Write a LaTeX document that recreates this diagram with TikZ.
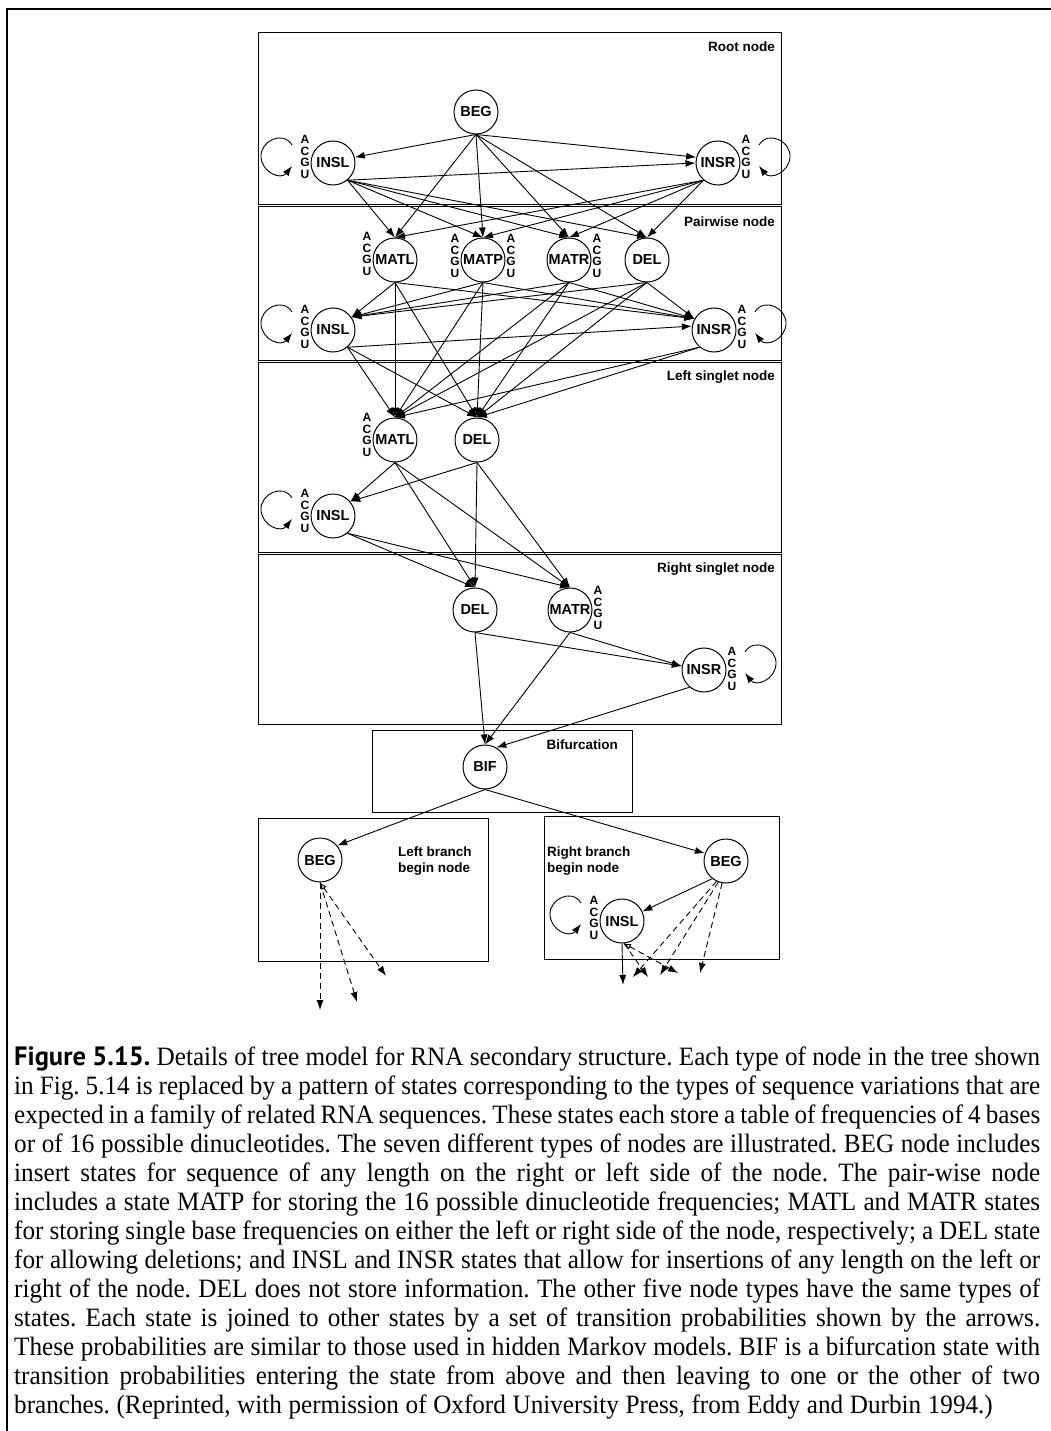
\documentclass[tikz,border=0pt]{standalone}
\usepackage{fontspec}
\setmainfont{Liberation Serif}
\newfontfamily\capfont[FakeStretch=0.95]{Liberation Serif}
\newfontfamily\hvfont{Liberation Sans}
\newfontfamily\fignumfont{PT Sans}
\usetikzlibrary{arrows.meta}
\newcommand\mkloopL[1]{\draw[ar] ([shift={(-41,-18)}]#1.center) .. controls ([shift={(-50,-33)}]#1.center) and ([shift={(-73,-22)}]#1.center) .. ([shift={(-72,-6)}]#1.center) .. controls ([shift={(-71,10)}]#1.center) and ([shift={(-52,17)}]#1.center) .. ([shift={(-41,3)}]#1.center);}
\newcommand\mkloopR[1]{\draw[ar] ([shift={(41,-18)}]#1.center) .. controls ([shift={(50,-33)}]#1.center) and ([shift={(73,-22)}]#1.center) .. ([shift={(72,-6)}]#1.center) .. controls ([shift={(71,10)}]#1.center) and ([shift={(52,17)}]#1.center) .. ([shift={(41,3)}]#1.center);}
\newcommand\acguL[3]{\node[acgu] (#2) at ([shift={(-28,#3)}]#1.center) {A\\C\\G\\U};}
\newcommand\acguR[3]{\node[acgu] (#2) at ([shift={(28,#3)}]#1.center) {A\\C\\G\\U};}
\begin{document}
\begin{tikzpicture}[x=1pt,y=-1pt,
  st/.style={circle,draw,line width=1pt,minimum size=44pt,inner sep=0pt,font=\hvfont\bfseries\fontsize{14.5}{15}\selectfont},
  box/.style={draw,line width=1pt},
  lab/.style={font=\hvfont\bfseries\fontsize{13.5}{16}\selectfont,inner sep=0pt,align=left},
  ar/.style={-{Latex[length=10pt,width=7pt]},line width=0.9pt},
  dar/.style={ar,dash pattern=on 6pt off 4pt},
  acgu/.style={font=\hvfont\bfseries\fontsize{12}{11.5}\selectfont,align=center,inner sep=0pt}
]
\useasboundingbox (0,0) rectangle (1051,1431);
\draw[line width=2pt] (6.5,1431) -- (6.5,9.5) -- (1051,9.5);
% boxes
\draw[box] (258,33) rectangle (781,205);
\draw[box] (258,207) rectangle (781,360);
\draw[box] (258,362) rectangle (781,552);
\draw[box] (258,554) rectangle (781,724);
\draw[box] (372,730) rectangle (632,812);
\draw[box] (258,818) rectangle (488,961);
\draw[box] (544,816) rectangle (779,959);
% labels
\node[lab,anchor=east] (lroot) at (775,47) {Root node};
\node[lab,anchor=east] (lpair) at (775,222) {Pairwise node};
\node[lab,anchor=east] (lls) at (775,377) {Left singlet node};
\node[lab,anchor=east] (lrs) at (775,569) {Right singlet node};
\node[lab,anchor=east] (lbif) at (618,745) {Bifurcation};
\node[lab,anchor=west] (llb) at (398,861) {Left branch\\begin node};
\node[lab,anchor=west] (lrb) at (547,861) {Right branch\\begin node};
% root node
\node[st] (tbeg) at (476,112) {BEG};
\node[st] (tinsl) at (333,163) {INSL};
\node[st] (tinsr) at (718,163) {INSR};
% pairwise
\node[st] (pmatl) at (395,260) {MATL};
\node[st] (pmatp) at (483,260) {MATP};
\node[st] (pmatr) at (569,260) {MATR};
\node[st] (pdel) at (647,260) {DEL};
\node[st] (pinsl) at (333,330) {INSL};
\node[st] (pinsr) at (714,330) {INSR};
% left singlet
\node[st] (lmatl) at (395,440) {MATL};
\node[st] (ldel) at (477,440) {DEL};
\node[st] (linsl) at (333,516) {INSL};
% right singlet
\node[st] (sdel) at (475,610) {DEL};
\node[st] (smatr) at (570,610) {MATR};
\node[st] (sinsr) at (704,670) {INSR};
% bifurcation and branches
\node[st] (bif) at (485,767) {BIF};
\node[st] (lbeg) at (320,860) {BEG};
\node[st] (rbeg) at (726,861) {BEG};
\node[st] (rinsl) at (622,921) {INSL};
% ACGU
\acguL{tinsl}{a1}{-6}
\acguR{tinsr}{a2}{-6}
\acguL{pmatl}{a3}{-6}
\acguL{pmatp}{a4}{-4}
\acguR{pmatp}{a5}{-4}
\acguR{pmatr}{a6}{-4}
\acguL{pinsl}{a7}{-3}
\acguR{pinsr}{a8}{-3}
\acguL{lmatl}{a9}{-5}
\acguL{linsl}{a10}{-5}
\acguR{smatr}{a11}{-2}
\acguR{sinsr}{a12}{-1}
\acguL{rinsl}{a13}{-3}
% self loops
\mkloopL{tinsl}
\mkloopR{tinsr}
\mkloopL{pinsl}
\mkloopR{pinsr}
\mkloopL{linsl}
\mkloopR{sinsr}
\mkloopL{rinsl}
% root transitions
\draw[ar] (tbeg.south) -- (tinsl.15);
\draw[ar] (tbeg.south) -- (tinsr.165);
\draw[ar] (tinsl.-50) -- (tinsr.180);
\foreach \t in {pmatl,pmatp,pmatr,pdel} {
  \draw[ar] (tbeg.south) -- (\t.north);
  \draw[ar] (tinsl.-50) -- (\t.north);
  \draw[ar] (tinsr.-130) -- (\t.north);
}
% pairwise transitions
\foreach \s in {pmatl,pmatp,pmatr,pdel} {
  \draw[ar] (\s.south) -- (pinsl.35);
  \draw[ar] (\s.south) -- (pinsr.150);
  \draw[ar] (\s.south) -- (lmatl.north);
  \draw[ar] (\s.south) -- (ldel.north);
}
\draw[ar] (pinsl.-50) -- (pinsr.170);
\foreach \t in {lmatl,ldel} {
  \draw[ar] (pinsl.-50) -- (\t.north);
  \draw[ar] (pinsr.-130) -- (\t.north);
}
% left singlet transitions
\draw[ar] (lmatl.south) -- (linsl.40);
\draw[ar] (ldel.south) -- (linsl.40);
\foreach \s/\a in {lmatl/south,ldel/south,linsl/-50} {
  \draw[ar] (\s.\a) -- (sdel.north);
  \draw[ar] (\s.\a) -- (smatr.north);
}
% right singlet transitions
\draw[ar] (sdel.south) -- (sinsr.170);
\draw[ar] (smatr.south) -- (sinsr.170);
\draw[ar] (sdel.south) -- (bif.north);
\draw[ar] (smatr.south) -- (bif.north);
\draw[ar] (sinsr.-130) -- (bif.60);
% bifurcation
\draw[ar] (bif.south) -- (lbeg.40);
\draw[ar] (bif.south) -- (rbeg.160);
% left branch
\coordinate (le1) at (320,1010);
\coordinate (le2) at (357,1002);
\coordinate (le3) at (386,976);
\draw[dar] (lbeg.south) -- (le1);
\draw[dar] (lbeg.south) -- (le2);
\draw[dar,{Latex[open,length=7pt,width=6pt]}-{Latex[length=10pt,width=7pt]}] (lbeg.south) -- (le3);
% right branch
\coordinate (re1) at (633,977);
\coordinate (re2) at (660,975);
\coordinate (re3) at (700,973);
\coordinate (re4) at (623,985);
\coordinate (re5) at (648,977);
\coordinate (re6) at (678,973);
\draw[ar] (rbeg.-128) -- (rinsl.25);
\draw[dar] (rbeg.-115) -- (re1);
\draw[dar] (rbeg.-110) -- (re2);
\draw[dar] (rbeg.-100) -- (re3);
\draw[ar] (rinsl.south) -- (re4);
\draw[dar] (rinsl.-85) -- (re5);
\draw[dar,{Latex[open,length=7pt,width=6pt]}-{Latex[length=10pt,width=7pt]}] (rinsl.-85) -- (re6);
% caption
\node[anchor=north west,inner sep=0pt,text width=1026pt,align=justify,font=\capfont\frenchspacing\fontsize{26.5}{29}\selectfont] (cap) at (14,1046) {\spaceskip=0.25em plus 0.25em minus 0.12em\relax{\fignumfont\bfseries Figure 5.15.} Details of tree model for RNA secondary structure. Each type of node in the tree shown\linebreak
in Fig. 5.14 is replaced by a pattern of states corresponding to the types of sequence variations that are\linebreak
expected in a family of related RNA sequences. These states each store a table of frequencies of 4 bases\linebreak
or of 16 possible dinucleotides. The seven different types of nodes are illustrated. BEG node includes\linebreak
insert states for sequence of any length on the right or left side of the node. The pair-wise node\linebreak
includes a state MATP for storing the 16 possible dinucleotide frequencies; MATL and MATR states\linebreak
for storing single base frequencies on either the left or right side of the node, respectively; a DEL state\linebreak
for allowing deletions; and INSL and INSR states that allow for insertions of any length on the left or\linebreak
right of the node. DEL does not store information. The other five node types have the same types of\linebreak
states. Each state is joined to other states by a set of transition probabilities shown by the arrows.\linebreak
These probabilities are similar to those used in hidden Markov models. BIF is a bifurcation state with\linebreak
transition probabilities entering the state from above and then leaving to one or the other of two\linebreak
branches. (Reprinted, with permission of Oxford University Press, from Eddy and Durbin 1994.)};
\end{tikzpicture}
\end{document}
